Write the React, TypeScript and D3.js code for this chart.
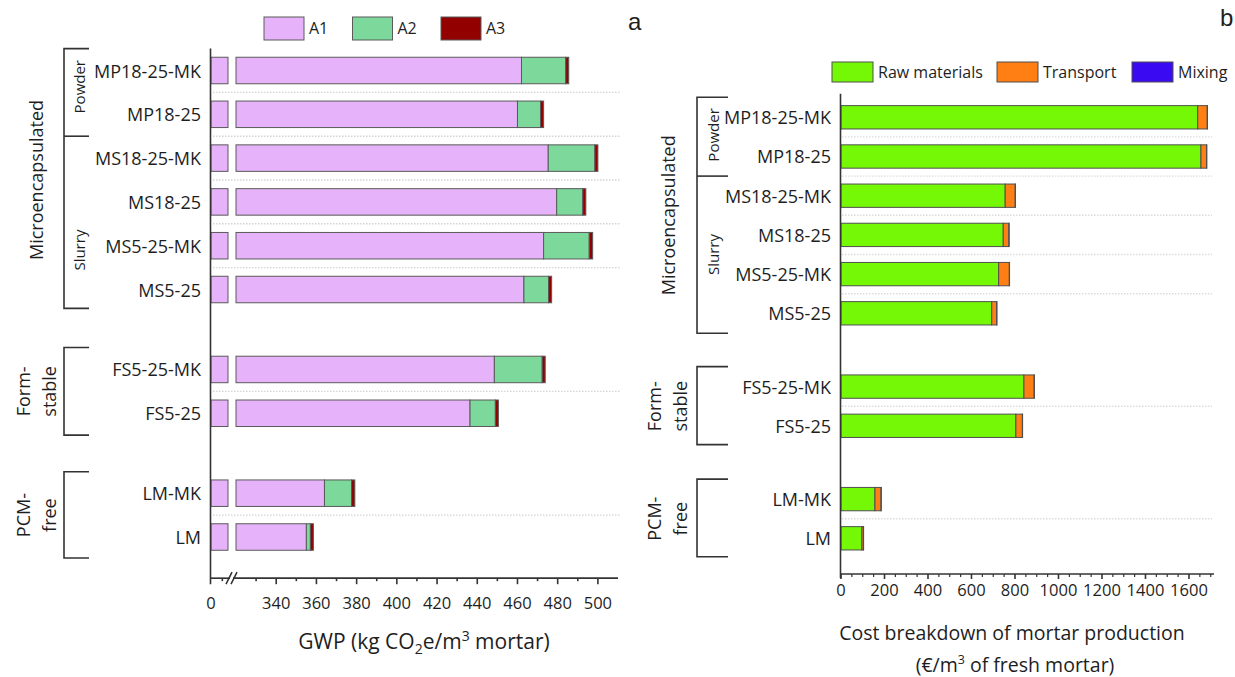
import React from 'react';
import * as d3 from 'd3';

// Mortar mixes, top to bottom, with their family (0 microencapsulated, 1 form-stable, 2 PCM-free)
const categories = ['MP18-25-MK', 'MP18-25', 'MS18-25-MK', 'MS18-25', 'MS5-25-MK', 'MS5-25', 'FS5-25-MK', 'FS5-25', 'LM-MK', 'LM'];
const families = [0, 0, 0, 0, 0, 0, 1, 1, 2, 2];

// GWP contributions per stage (kg CO2e/m3 mortar)
const gwpA1 = [462, 460, 475.3, 479.5, 473, 463.2, 448.5, 436.4, 364, 355];
const gwpA2 = [22, 11.5, 23.2, 13, 22.7, 12.3, 23.8, 12.6, 13.5, 2];
const gwpA3 = [1.5, 1.5, 1.5, 1.5, 1.7, 1.5, 1.5, 1.5, 1.6, 1.5];

// Production cost per item (EUR/m3 of fresh mortar)
const costRaw = [1640, 1655, 755, 746, 725, 693, 841, 804, 156, 96];
const costTransport = [44, 26, 46, 26, 49, 23, 47, 30, 28, 7];
const costMixing = [1, 1, 1, 1, 1, 1, 1, 1, 1, 1];

const gwpTicks = [340, 360, 380, 400, 420, 440, 460, 480, 500];
const costTicks = [0, 200, 400, 600, 800, 1000, 1200, 1400, 1600];

const gwpKeys = ['A1', 'A2', 'A3'];
const gwpColors = ['#E6B3FA', '#7CD99B', '#930000'];
const costKeys = ['Raw materials', 'Transport', 'Mixing'];
const costColors = ['#74F806', '#FF7F14', '#3A0AF2'];

const FONT = '"Open Sans", "Noto Sans", sans-serif';
const TEXT = '#1e1e1e';
const AXIS = '#333';

const gwpTable = categories.map((c, i) => ({ name: c, A1: gwpA1[i], A2: gwpA2[i], A3: gwpA3[i] }));
const costTable = categories.map((c, i) => ({
  name: c,
  'Raw materials': costRaw[i],
  Transport: costTransport[i],
  Mixing: costMixing[i],
}));

function Bracket({ x, x2, y0, y1, mids = [] }: { x: number; x2: number; y0: number; y1: number; mids?: number[] }) {
  return (
    <g stroke={AXIS} strokeWidth={1.6} fill="none">
      <path d={`M${x2},${y0}H${x}V${y1}H${x2}`} />
      {mids.map((m, k) => (
        <line key={k} x1={x} x2={x2} y1={m} y2={m} />
      ))}
    </g>
  );
}

function RotLabel({ x, y, text, size }: { x: number; y: number; text: string; size: number }) {
  return (
    <text
      transform={`translate(${x},${y}) rotate(-90)`}
      textAnchor="middle"
      dominantBaseline="central"
      fontSize={size}
      fill={TEXT}
    >
      {text}
    </text>
  );
}

function GwpPanel() {
  // Broken axis: a short stub for the origin, then the 320-510 range
  const xLow = d3.scaleLinear().domain([0, 15]).range([211, 228]);
  const x = d3.scaleLinear().domain([320, 510]).range([236, 618]);
  const gap = 0.825;
  const y = d3.scaleLinear().domain([0, 9 + 2 * gap]).range([70.5, 537]);
  const slot = y(1) - y(0);
  const pos = (i: number) => i + families[i] * gap;
  const barH = slot * 0.605;
  const axisY = y(pos(9) + 0.94);
  const axisTop = y(-0.5);

  const series = d3.stack<any>().keys(gwpKeys)(gwpTable);

  const grid: number[] = [];
  for (let i = 0; i < categories.length - 1; i++) {
    if (families[i] === families[i + 1]) grid.push(y(pos(i) + 0.5));
  }

  const minor = d3.range(330, 500, 20);

  return (
    <g fontFamily={FONT}>
      {/* dotted separators */}
      {grid.map((g, k) => (
        <line key={k} x1={213} x2={620} y1={g} y2={g} stroke="#d4d4d4" strokeWidth={1.4} strokeDasharray="1.5,1.5" />
      ))}

      {/* stacked bars */}
      {series.map((s, si) => (
        <g key={s.key} fill={gwpColors[si]} stroke="#5a5a5a" strokeWidth={1}>
          {s.map((d, i) => {
            const cy = y(pos(i));
            if (si === 0) {
              return (
                <g key={i}>
                  <rect x={xLow(0)} y={cy - barH / 2} width={xLow(15) - xLow(0)} height={barH} />
                  <rect x={x(320)} y={cy - barH / 2} width={x(d[1]) - x(320)} height={barH} />
                </g>
              );
            }
            return <rect key={i} x={x(d[0])} y={cy - barH / 2} width={x(d[1]) - x(d[0])} height={barH} />;
          })}
        </g>
      ))}

      {/* axes */}
      <g stroke={AXIS} strokeWidth={1.6} fill="none">
        <line x1={210.5} x2={210.5} y1={axisTop} y2={axisY + 6} />
        <line x1={210} x2={230} y1={axisY} y2={axisY} />
        <line x1={233} x2={x(510)} y1={axisY} y2={axisY} />
        <line x1={226} x2={232} y1={axisY + 6} y2={axisY - 6} />
        <line x1={231} x2={237} y1={axisY + 6} y2={axisY - 6} />
        <line x1={xLow(10)} x2={xLow(10)} y1={axisY} y2={axisY + 3} />
        {gwpTicks.map((t) => (
          <line key={t} x1={x(t)} x2={x(t)} y1={axisY} y2={axisY + 6} />
        ))}
        {minor.map((t) => (
          <line key={t} x1={x(t)} x2={x(t)} y1={axisY} y2={axisY + 3} />
        ))}
      </g>
      <g fontSize={16.5} fill={TEXT} textAnchor="middle">
        <text x={xLow(0)} y={axisY + 31}>0</text>
        {gwpTicks.map((t) => (
          <text key={t} x={x(t)} y={axisY + 31}>
            {t}
          </text>
        ))}
      </g>
      <text x={424} y={649} fontSize={21} textAnchor="middle" fill={TEXT}>
        GWP (kg CO<tspan dy={5} fontSize={14}>2</tspan>
        <tspan dy={-5}>e/m</tspan>
        <tspan dy={-8} fontSize={14}>3</tspan>
        <tspan dy={8}> mortar)</tspan>
      </text>

      {/* category labels */}
      <g fontSize={18} fill={TEXT} textAnchor="end">
        {categories.map((c, i) => (
          <text key={c} x={201} y={y(pos(i))} dominantBaseline="central">
            {c}
          </text>
        ))}
      </g>

      {/* family brackets */}
      <Bracket x={64} x2={89} y0={y(-0.5)} y1={y(5.43)} mids={[y(1.5)]} />
      <Bracket x={64} x2={89} y0={y(pos(6) - 0.5)} y1={y(pos(7) + 0.5)} />
      <Bracket x={64} x2={89} y0={y(pos(8) - 0.49)} y1={y(pos(9) + 0.48)} />
      <RotLabel x={36} y={y(2.5)} text="Microencapsulated" size={18} />
      <RotLabel x={79} y={y(0.37)} text="Powder" size={15} />
      <RotLabel x={79} y={y(4.1)} text="Slurry" size={15} />
      <RotLabel x={23} y={y(pos(6) + 0.5)} text="Form-" size={18} />
      <RotLabel x={49} y={y(pos(6) + 0.5)} text="stable" size={18} />
      <RotLabel x={23} y={y(pos(8) + 0.5)} text="PCM-" size={18} />
      <RotLabel x={49} y={y(pos(8) + 0.5)} text="free" size={18} />

      {/* legend */}
      {gwpKeys.map((k, i) => (
        <g key={k} transform={`translate(${264 + i * 88.5},17)`}>
          <rect width={40} height={23} fill={gwpColors[i]} stroke="#5a5a5a" strokeWidth={1} />
          <text x={45} y={17} fontSize={16} fill={TEXT}>
            {k}
          </text>
        </g>
      ))}
      <text x={628} y={30} fontSize={24} fontFamily='"Liberation Sans", Arial, sans-serif' fill={TEXT}>
        a
      </text>
    </g>
  );
}

function CostPanel() {
  const x = d3.scaleLinear().domain([0, 1715]).range([841, 1214]);
  const gap = 0.87;
  const y = d3.scaleLinear().domain([0, 9 + 2 * gap]).range([117.3, 538.3]);
  const slot = y(1) - y(0);
  const pos = (i: number) => i + families[i] * gap;
  const barH = slot * 0.595;
  const axisY = y(pos(9) + 0.91);
  const axisTop = y(-0.6);

  const series = d3.stack<any>().keys(costKeys)(costTable);

  const grid: number[] = [];
  for (let i = 0; i < categories.length - 1; i++) {
    if (families[i] === families[i + 1]) grid.push(y(pos(i) + 0.5));
  }
  const minor = d3.range(50, 1715, 50).filter((t) => t % 200 !== 0);

  return (
    <g fontFamily={FONT}>
      {grid.map((g, k) => (
        <line key={k} x1={842} x2={1212} y1={g} y2={g} stroke="#dcdcdc" strokeWidth={1.4} strokeDasharray="1.5,1.5" />
      ))}

      {series.map((s, si) => (
        <g key={s.key} fill={costColors[si]} stroke="#4f4f4f" strokeWidth={1}>
          {s.map((d, i) => (
            <rect key={i} x={x(d[0])} y={y(pos(i)) - barH / 2} width={x(d[1]) - x(d[0])} height={barH} />
          ))}
        </g>
      ))}

      <g stroke={AXIS} strokeWidth={1.6} fill="none">
        <line x1={840.5} x2={840.5} y1={axisTop} y2={axisY + 4} />
        <line x1={840} x2={x(1715)} y1={axisY} y2={axisY} />
        {costTicks.map((t) => (
          <line key={t} x1={x(t)} x2={x(t)} y1={axisY} y2={axisY + 5} />
        ))}
        {minor.map((t) => (
          <line key={t} x1={x(t)} x2={x(t)} y1={axisY} y2={axisY + 3} strokeWidth={1.2} />
        ))}
      </g>
      <g fontSize={16.5} fill={TEXT} textAnchor="middle">
        {costTicks.map((t) => (
          <text key={t} x={x(t)} y={axisY + 22}>
            {t}
          </text>
        ))}
      </g>
      <text x={1012} y={640} fontSize={19.5} textAnchor="middle" fill={TEXT}>
        Cost breakdown of mortar production
      </text>
      <text x={1015} y={672} fontSize={19.5} textAnchor="middle" fill={TEXT}>
        (€/m<tspan dy={-8} fontSize={12.5}>3</tspan>
        <tspan dy={8}> of fresh mortar)</tspan>
      </text>

      <g fontSize={18} fill={TEXT} textAnchor="end">
        {categories.map((c, i) => (
          <text key={c} x={831} y={y(pos(i))} dominantBaseline="central">
            {c}
          </text>
        ))}
      </g>

      <Bracket x={697} x2={728} y0={y(-0.51)} y1={y(5.51)} mids={[y(1.5)]} />
      <Bracket x={697} x2={728} y0={y(pos(6) - 0.51)} y1={y(pos(7) + 0.48)} />
      <Bracket x={697} x2={728} y0={y(pos(8) - 0.51)} y1={y(pos(9) + 0.47)} />
      <RotLabel x={668} y={y(2.5)} text="Microencapsulated" size={18} />
      <RotLabel x={713} y={y(0.45)} text="Powder" size={15} />
      <RotLabel x={713} y={y(3.5)} text="Slurry" size={15} />
      <RotLabel x={654} y={y(pos(6) + 0.5)} text="Form-" size={18} />
      <RotLabel x={680} y={y(pos(6) + 0.5)} text="stable" size={18} />
      <RotLabel x={654} y={y(pos(8) + 0.5)} text="PCM-" size={18} />
      <RotLabel x={680} y={y(pos(8) + 0.5)} text="free" size={18} />

      {costKeys.map((k, i) => {
        const lx = [832, 997, 1132][i];
        return (
          <g key={k} transform={`translate(${lx},62)`}>
            <rect width={41} height={20} fill={costColors[i]} stroke="#4f4f4f" strokeWidth={1} />
            <text x={46} y={16} fontSize={16} fill={TEXT}>
              {k}
            </text>
          </g>
        );
      })}
      <text x={1220} y={26} fontSize={24} fontFamily='"Liberation Sans", Arial, sans-serif' fill={TEXT}>
        b
      </text>
    </g>
  );
}

export default function App() {
  return (
    <svg
      width={1235}
      height={677}
      viewBox="0 0 1235 677"
      style={{ position: 'absolute', left: 0, top: 0, background: '#fff' }}
    >
      <rect width={1235} height={677} fill="#fff" />
      <GwpPanel />
      <CostPanel />
    </svg>
  );
}
